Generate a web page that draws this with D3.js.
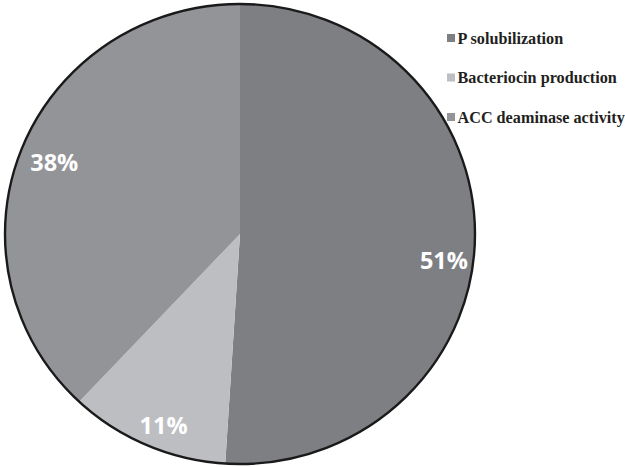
<!DOCTYPE html>
<html><head><meta charset="utf-8">
<script src="https://cdn.jsdelivr.net/npm/d3@7"></script>
<style>html,body{margin:0;padding:0;background:#fff;}</style>
</head><body>
<svg id="chart" width="625" height="467"></svg>
<script>
const categories = ["P solubilization", "Bacteriocin production", "ACC deaminase activity"];
const values = [51, 11, 38];
const labels = ["51%", "11%", "38%"];

// style / layout
const colors = ["#7e7f83", "#bdbec2", "#939498"];
const labelFrac = [0.53, 0.45, 0.5];
const labelRad = [0.875, 0.89, 0.85];
const cx = 240, cy = 234, rx = 235, ry = 230;

const svg = d3.select("#chart");
const data = categories.map((c, i) => ({ name: c, value: values[i], label: labels[i], i }));
const pie = d3.pie().value(d => d.value).sort(null);
const arcs = pie(data);
const arc = d3.arc().innerRadius(0).outerRadius(rx);

const g = svg.append("g").attr("transform", `translate(${cx},${cy}) scale(1,${ry / rx})`);
g.selectAll("path.slice").data(arcs).enter().append("path")
  .attr("class", "slice")
  .attr("d", arc)
  .attr("fill", (d) => colors[d.data.i]);
g.append("ellipse").attr("cx", 0).attr("cy", 0).attr("rx", rx).attr("ry", rx)
  .attr("fill", "none").attr("stroke", "#1a1a1a").attr("stroke-width", 2.4)
  .attr("vector-effect", "non-scaling-stroke");

// labels
svg.selectAll("text.lbl").data(arcs).enter().append("text")
  .attr("class", "lbl")
  .attr("x", d => {
    const a = d.startAngle + (d.endAngle - d.startAngle) * labelFrac[d.data.i];
    return cx + Math.sin(a) * rx * labelRad[d.data.i];
  })
  .attr("y", d => {
    const a = d.startAngle + (d.endAngle - d.startAngle) * labelFrac[d.data.i];
    return cy - Math.cos(a) * ry * labelRad[d.data.i];
  })
  .attr("text-anchor", "middle")
  .attr("dominant-baseline", "central")
  .attr("fill", "#ffffff")
  .attr("font-family", "'Open Sans', Lato, sans-serif")
  .attr("font-weight", "bold")
  .attr("font-size", 23.5)
  .text(d => d.data.label);

// legend
const leg = svg.append("g").attr("transform", "translate(447,38)");
const items = leg.selectAll("g").data(data).enter().append("g")
  .attr("transform", (d, i) => `translate(0,${i * 39.5})`);
items.append("rect").attr("x", 0).attr("y", -4).attr("width", 8).attr("height", 8)
  .attr("fill", (d) => colors[d.i]);
items.append("text").attr("x", 10.5).attr("y", 0.5)
  .attr("dominant-baseline", "central")
  .attr("font-family", "'Liberation Serif', 'Times New Roman', serif")
  .attr("font-weight", "bold")
  .attr("font-size", 16.2)
  .attr("fill", "#231f20")
  .text(d => d.name);
</script>
</body></html>
